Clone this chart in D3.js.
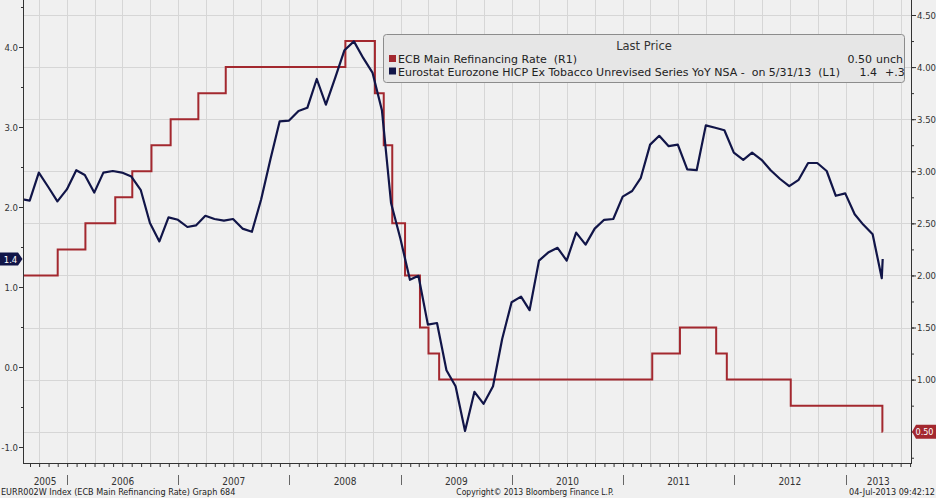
<!DOCTYPE html>
<html>
<head>
<meta charset="utf-8">
<script src="https://cdn.jsdelivr.net/npm/d3@7"></script>
<style>
html, body { margin: 0; padding: 0; background: #f0f0f0; }
svg { display: block; font-family: "DejaVu Sans Condensed", "DejaVu Sans", sans-serif; }
svg text { white-space: pre; }
</style>
</head>
<body>
<svg id="chart" width="936" height="498"></svg>
<script>
// Eurostat HICP ex tobacco YoY (%), monthly from Jul 2005 (left axis)
const hicpFirstMonth = "2005-07";
const hicpValues = [
  2.10, 2.08, 2.43, 2.25, 2.07, 2.22,
  2.46, 2.40, 2.18, 2.43, 2.45, 2.43, 2.38, 2.21, 1.80, 1.57, 1.87, 1.84,
  1.75, 1.77, 1.89, 1.85, 1.83, 1.85, 1.73, 1.69, 2.09, 2.60, 3.07, 3.08,
  3.20, 3.24, 3.60, 3.28, 3.62, 3.96, 4.07, 3.86, 3.68, 3.21, 2.05, 1.60,
  1.09, 1.14, 0.53, 0.55, -0.04, -0.24, -0.80, -0.31, -0.46, -0.24, 0.35, 0.81,
  0.88, 0.71, 1.33, 1.43, 1.49, 1.33, 1.68, 1.53, 1.73, 1.84, 1.85, 2.13,
  2.20, 2.36, 2.78, 2.89, 2.76, 2.78, 2.47, 2.46, 3.02, 2.99, 2.96, 2.68,
  2.59, 2.68, 2.59, 2.46, 2.35, 2.26, 2.34, 2.55, 2.55, 2.45, 2.14, 2.17,
  1.91, 1.78, 1.66, 1.11, 1.35
];
const hicpLastPlotted = "2013-05-03";

// ECB main refinancing rate (%), changes (right axis)
const ecbDates = [
  "2005-08-01", "2005-12-01", "2006-03-02", "2006-06-08", "2006-08-03", "2006-10-05",
  "2006-12-07", "2007-03-08", "2007-06-06", "2008-07-03", "2008-10-08", "2008-11-06",
  "2008-12-04", "2009-01-15", "2009-03-05", "2009-04-02", "2009-05-07", "2011-04-07",
  "2011-07-07", "2011-11-03", "2011-12-08", "2012-07-05", "2013-05-02", "2013-05-03"
];
const ecbRates = [
  2.00, 2.25, 2.50, 2.75, 3.00, 3.25,
  3.50, 3.75, 4.00, 4.25, 3.75, 3.25,
  2.50, 2.00, 1.50, 1.25, 1.00, 1.25,
  1.50, 1.25, 1.00, 0.75, 0.50, 0.50
];

const yearLabels = ["2005", "2006", "2007", "2008", "2009", "2010", "2011", "2012", "2013"];
const leftTicks = [-1, 0, 1, 2, 3, 4];
const rightTicks = [0.5, 1.0, 1.5, 2.0, 2.5, 3.0, 3.5, 4.0, 4.5];

const legendTitle = "Last Price";
const legendNames = ["ECB Main Refinancing Rate  (R1)",
  "Eurostat Eurozone HICP Ex Tobacco Unrevised Series YoY NSA -  on 5/31/13  (L1)"];
const legendLast = ["0.50", "1.4"];
const legendChange = ["unch", "+.3"];

const footerLeft = "EURR002W Index (ECB Main Refinancing Rate) Graph 684";
const footerMid = "Copyright\u00a9 2013 Bloomberg Finance L.P.";
const footerRight = "04-Jul-2013 09:42:12";

const red = "#a3282f";
const navy = "#111548";

const parseDay = d3.timeParse("%Y-%m-%d");
const parseMonth = d3.timeParse("%Y-%m");

const m0 = parseMonth(hicpFirstMonth);
const hicp = hicpValues.map((v, i) => {
  let date = d3.timeDay.offset(d3.timeMonth.offset(m0, i + 1), -1);
  if (i === hicpValues.length - 1) date = parseDay(hicpLastPlotted);
  return { date: date, value: v };
});
const ecb = ecbDates.map((d, i) => ({ date: parseDay(d), value: ecbRates[i] }));

const plotLeft = 23, plotRight = 911, plotTop = 0, plotBottom = 463;

const x = d3.scaleTime()
  .domain([new Date(2005, 7, 9), new Date(2013, 7, 4)])
  .range([plotLeft, plotRight]);
const yL = d3.scaleLinear().domain([-1, 4]).range([447, 47]);
const yR = d3.scaleLinear().domain([0.5, 4.5]).range([431.7, 15]);

const svg = d3.select("#chart");

svg.append("defs").append("clipPath").attr("id", "plot")
  .append("rect").attr("x", plotLeft).attr("y", plotTop)
  .attr("width", plotRight - plotLeft).attr("height", plotBottom - plotTop);

// grid
const grid = svg.append("g").attr("stroke", "#d6d6d6").attr("stroke-width", 1);
grid.selectAll("line.h").data(rightTicks).join("line").attr("class", "h")
  .attr("x1", plotLeft).attr("x2", plotRight)
  .attr("y1", d => Math.round(yR(d)) + 0.5).attr("y2", d => Math.round(yR(d)) + 0.5);
const quarters = d3.timeMonth.every(3).range(x.domain()[0], x.domain()[1]);
grid.selectAll("line.v").data(quarters).join("line").attr("class", "v")
  .attr("x1", d => Math.round(x(d)) + 0.5).attr("x2", d => Math.round(x(d)) + 0.5)
  .attr("y1", plotTop).attr("y2", plotBottom);

// series
const plot = svg.append("g").attr("clip-path", "url(#plot)");

const ecbLine = d3.line().curve(d3.curveStepAfter)
  .x(d => x(d.date)).y(d => yR(d.value));
plot.append("path").datum(ecb)
  .attr("fill", "none").attr("stroke", red).attr("stroke-width", 2)
  .attr("d", ecbLine);

const hicpLine = d3.line().x(d => x(d.date)).y(d => yL(d.value));
plot.append("path").datum(hicp)
  .attr("fill", "none").attr("stroke", navy).attr("stroke-width", 2.2)
  .attr("stroke-linejoin", "round")
  .attr("d", hicpLine);

// axis lines
const axisColor = "#333";
svg.append("line").attr("x1", plotLeft + 0.5).attr("x2", plotLeft + 0.5)
  .attr("y1", plotTop).attr("y2", plotBottom).attr("stroke", axisColor);
svg.append("line").attr("x1", plotRight + 0.5).attr("x2", plotRight + 0.5)
  .attr("y1", plotTop).attr("y2", plotBottom).attr("stroke", axisColor);
svg.append("line").attr("x1", plotLeft).attr("x2", plotRight + 1)
  .attr("y1", plotBottom + 0.5).attr("y2", plotBottom + 0.5).attr("stroke", axisColor);

// left axis (plain hyphen for negatives, like the original)
const fmtLeft = d => d3.format(".1f")(d).replace("\u2212", "-");
const leftAxis = svg.append("g").attr("transform", `translate(${plotLeft},0)`)
  .call(d3.axisLeft(yL).tickValues(leftTicks).tickFormat(fmtLeft)
    .tickSize(4).tickSizeOuter(0).tickPadding(1));
const leftMinor = svg.append("g").attr("transform", `translate(${plotLeft},0)`)
  .call(d3.axisLeft(yL).tickValues(d3.range(-1, 4.6, 0.5)).tickFormat("")
    .tickSize(2).tickSizeOuter(0));

// right axis
const rightAxis = svg.append("g").attr("transform", `translate(${plotRight + 1},0)`)
  .call(d3.axisRight(yR).tickValues(rightTicks.filter(d => d > 0.5)).tickFormat(d3.format(".2f"))
    .tickSize(4).tickSizeOuter(0).tickPadding(1));
const rightMinor = svg.append("g").attr("transform", `translate(${plotRight + 1},0)`)
  .call(d3.axisRight(yR).tickValues(d3.range(0.25, 4.6, 0.25)).tickFormat("")
    .tickSize(2).tickSizeOuter(0));

// bottom month ticks
const bottomAxis = svg.append("g").attr("transform", `translate(0,${plotBottom + 1})`)
  .call(d3.axisBottom(x).ticks(d3.timeMonth.every(1)).tickFormat("")
    .tickSize(3).tickSizeOuter(0));

[leftAxis, leftMinor, rightAxis, rightMinor, bottomAxis].forEach(g => {
  g.select(".domain").remove();
  g.selectAll("line").attr("stroke", axisColor);
  g.selectAll("text").attr("fill", "#333").attr("font-size", 9.5)
    .attr("font-family", '"DejaVu Sans Condensed", "DejaVu Sans", sans-serif');
});

// year separators and labels
const years = yearLabels.map(y => +y);
const sep = svg.append("g");
sep.selectAll("line").data(years.slice(1)).join("line")
  .attr("x1", d => Math.round(x(new Date(d, 0, 1))) + 0.5)
  .attr("x2", d => Math.round(x(new Date(d, 0, 1))) + 0.5)
  .attr("y1", 475).attr("y2", 485)
  .attr("stroke", "#666");
sep.selectAll("text").data(yearLabels).join("text")
  .attr("x", d => {
    const a = Math.max(x(new Date(+d, 0, 1)), plotLeft);
    const b = Math.min(x(new Date(+d + 1, 0, 1)), plotRight);
    return (a + b) / 2;
  })
  .attr("y", 485)
  .attr("text-anchor", "middle").attr("font-size", 10).attr("fill", "#333")
  .text(d => d);

// last value markers
const lastHicp = hicp[hicp.length - 1].value;
const lastEcb = ecb[ecb.length - 1].value;
const ly = yL(lastHicp);
svg.append("path")
  .attr("d", `M0,${ly - 6.5}H18L22.5,${ly}L18,${ly + 6.5}H0Z`)
  .attr("fill", navy);
svg.append("text").attr("x", 10.5).attr("y", ly + 3.5)
  .attr("text-anchor", "middle").attr("font-size", 9.5).attr("fill", "#fff")
  .text(d3.format(".1f")(lastHicp));
const ry = yR(lastEcb);
svg.append("path")
  .attr("d", `M${plotRight + 1},${ry}L${plotRight + 5},${ry - 7}H936V${ry + 7}H${plotRight + 5}Z`)
  .attr("fill", red);
svg.append("text").attr("x", 924.5).attr("y", ry + 3.5)
  .attr("text-anchor", "middle").attr("font-size", 9).attr("fill", "#fff")
  .text(d3.format(".2f")(lastEcb));

// legend
const lg = svg.append("g").attr("font-family", '"DejaVu Sans", sans-serif')
  .attr("font-size", 11).attr("fill", "#222");
lg.append("rect").attr("x", 383.5).attr("y", 34.5).attr("width", 521).attr("height", 48)
  .attr("rx", 3).attr("fill", "#e6e6e6").attr("stroke", "#8c8c8c");
lg.append("text").attr("x", 644).attr("y", 50).attr("text-anchor", "middle")
  .attr("font-size", 11.5).attr("fill", "#333").text(legendTitle);
const rowColors = [red, navy];
legendNames.forEach((name, i) => {
  const by = 63 + i * 12.5;
  lg.append("rect").attr("x", 389).attr("y", by - 8).attr("width", 7).attr("height", 7)
    .attr("fill", rowColors[i]);
  lg.append("text").attr("x", 398).attr("y", by).text(name);
});
lg.append("text").attr("x", 872).attr("y", 63).attr("text-anchor", "end").text(legendLast[0]);
lg.append("text").attr("x", 876).attr("y", 63).text(legendChange[0]);
lg.append("text").attr("x", 877).attr("y", 75.5).attr("text-anchor", "end").text(legendLast[1]);
lg.append("text").attr("x", 885).attr("y", 75.5).text(legendChange[1]);

// footer
const foot = svg.append("g").attr("font-size", 9).attr("fill", "#222");
foot.append("text").attr("x", 1).attr("y", 495).text(footerLeft);
foot.append("text").attr("x", 535).attr("y", 495).attr("text-anchor", "middle")
  .attr("font-size", 8.5).text(footerMid);
foot.append("text").attr("x", 935).attr("y", 495).attr("text-anchor", "end").text(footerRight);
</script>
</body>
</html>
